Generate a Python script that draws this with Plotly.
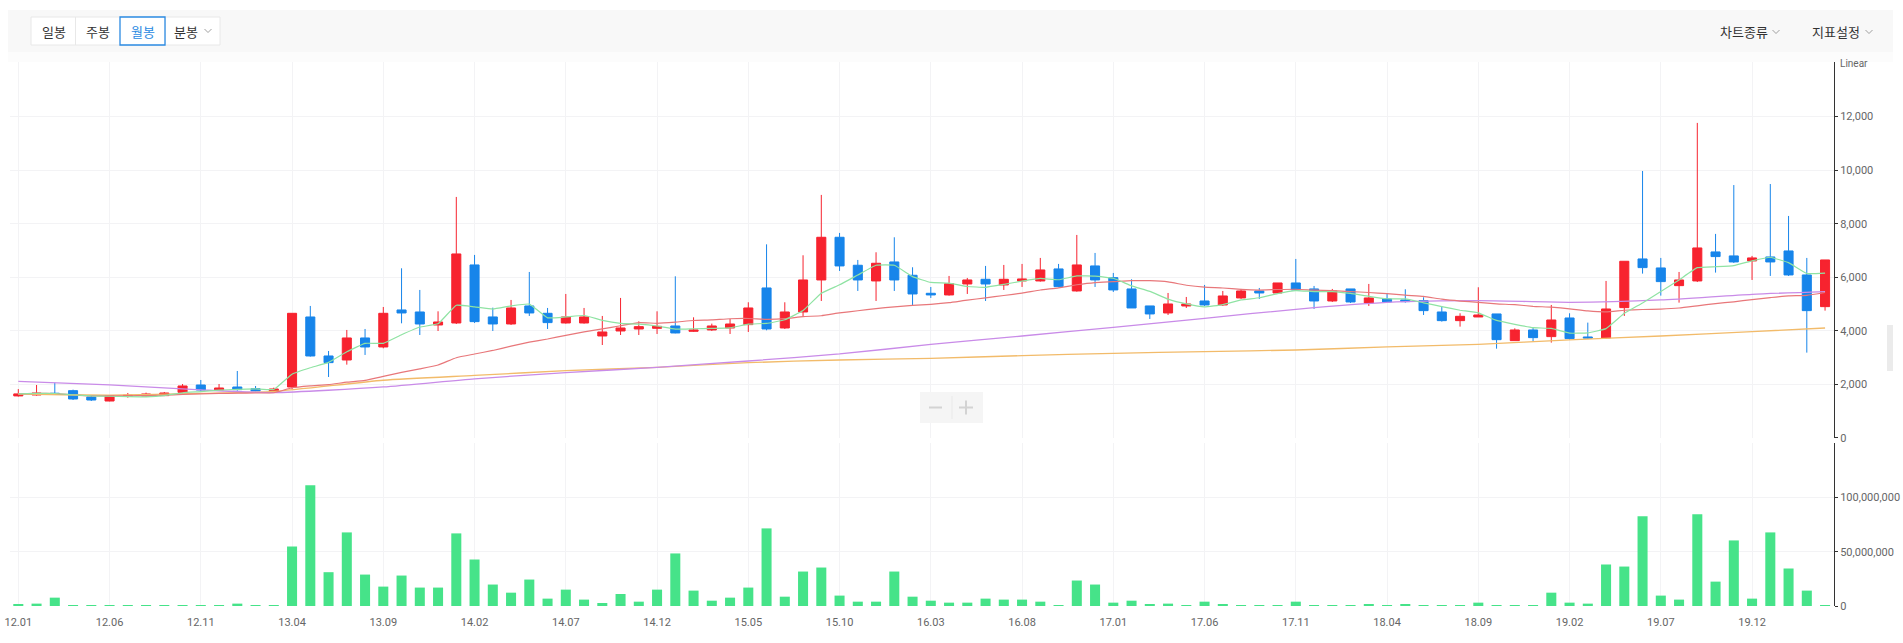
import plotly.graph_objects as go
import pandas as pd

# ---------------- data ----------------
months = [f"{y % 100:02d}.{m:02d}" for y in range(2012, 2021) for m in range(1, 13)][:100]

opens = [1565, 1600, 1665, 1761, 1525, 1375, 1550, 1562, 1575, 1699,
         1973, 1786, 1898, 1836, 1736, 1898, 4514, 3057, 2907, 3730,
         3393, 4776, 4701, 4215, 4290, 6458, 4515, 4253, 4926, 4651,
         4290, 4290, 3804, 3991, 4066, 4091, 4178, 3979, 4029, 4103,
         4228, 5598, 4103, 4701, 5897, 7492, 6446, 5860, 6570, 6072,
         5399, 5337, 5747, 5922, 5710, 5860, 5860, 6309, 5486, 6421,
         5984, 5561, 4926, 4664, 4925, 5112, 4963, 5225, 5486, 5411,
         5785, 5561, 5112, 5561, 5037, 5187, 5150, 5125, 4701, 4377,
         4514, 4627, 3630, 4029, 3780, 4477, 3767, 3730, 4863, 6682,
         6346, 5685, 5860, 6944, 6795, 6607, 6757, 6981, 6084, 4900]
highs = [1820, 1973, 2060, 1799, 1562, 1575, 1675, 1687, 1712, 2010,
         2160, 2010, 2496, 1936, 1873, 4651, 4926, 3244, 4029, 4066,
         4888, 6333, 5524, 4726, 8999, 6832, 4863, 5150, 6196, 4851,
         5374, 4851, 4552, 5225, 4352, 4726, 6034, 4502, 4265, 4440,
         5063, 7228, 5063, 6819, 9074, 7654, 6645, 6931, 7492, 6371,
         5635, 6047, 5972, 6421, 6458, 6496, 6720, 6496, 7579, 6906,
         6159, 5922, 4926, 5411, 5262, 5711, 5486, 5561, 5598, 5785,
         6682, 5673, 5561, 5561, 5748, 5387, 5549, 5250, 4925, 4652,
         5624, 4627, 4091, 4116, 4963, 4652, 4303, 5860, 6595, 9969,
         6720, 6196, 11764, 7617, 9443, 6795, 9481, 8288, 6720, 6645]
lows = [1540, 1575, 1640, 1412, 1375, 1363, 1500, 1550, 1560, 1662,
        1749, 1774, 1761, 1736, 1711, 1811, 3032, 2272, 2733, 3095,
        3343, 4277, 3841, 3990, 4252, 4290, 3991, 4215, 4552, 4066,
        4265, 4265, 3467, 3841, 3841, 3879, 3904, 3954, 3991, 3879,
        3954, 4016, 4066, 4527, 5112, 6234, 5486, 5112, 5486, 4950,
        5225, 5312, 5374, 5112, 5524, 5636, 5835, 5623, 5461, 5636,
        5449, 4851, 4440, 4589, 4851, 4926, 4926, 5187, 5187, 5374,
        5524, 4813, 5075, 5037, 4926, 5050, 5050, 4589, 4340, 4153,
        4514, 3330, 3630, 3592, 3556, 3667, 3705, 3705, 4552, 6134,
        5312, 5050, 5820, 6172, 6533, 5897, 6047, 6047, 3182, 4751]
closes = [1640, 1674, 1650, 1450, 1412, 1575, 1587, 1637, 1674, 1936,
          1786, 1861, 1799, 1749, 1824, 4651, 3057, 2808, 3730, 3393,
          4651, 4664, 4252, 4327, 6869, 4340, 4253, 4851, 4664, 4303,
          4515, 4515, 3954, 4103, 4153, 4165, 3917, 4029, 4178, 4252,
          4851, 4066, 4701, 5897, 7492, 6421, 5897, 6520, 5897, 5374,
          5337, 5760, 5897, 5747, 5922, 5935, 6271, 5648, 6458, 5897,
          5524, 4851, 4627, 5000, 5000, 4963, 5299, 5486, 5411, 5785,
          5524, 5112, 5486, 5075, 5225, 5075, 5088, 4751, 4377, 4539,
          4589, 3667, 4029, 3742, 4402, 3705, 3730, 4813, 6595, 6358,
          5835, 5897, 7093, 6770, 6570, 6720, 6570, 6084, 4751, 6645]
volume_millions = [1.2, 2.2, 7.7, 0.6, 0.2, 0.2, 0.1, 0.1, 0.1, 0.2,
                   0.1, 0.2, 2.2, 0.2, 0.2, 54.9, 111.4, 31.2, 67.9, 29.0,
                   17.9, 28.1, 17.0, 17.0, 67.0, 42.9, 19.8, 12.3, 24.4, 6.8,
                   15.1, 5.9, 2.8, 11.1, 4.0, 15.1, 48.5, 14.2, 4.9, 7.7,
                   17.0, 71.6, 8.6, 31.8, 35.5, 9.6, 4.0, 4.0, 31.8, 8.6,
                   4.9, 3.1, 3.1, 6.8, 5.9, 5.9, 4.0, 0.6, 23.5, 19.8,
                   3.1, 4.9, 1.2, 2.2, 0.6, 4.0, 1.2, 0.6, 0.2, 0.2,
                   4.0, 0.6, 0.6, 0.2, 1.2, 0.6, 1.2, 0.2, 0.2, 0.2,
                   3.1, 0.2, 0.2, 0.2, 12.3, 3.1, 2.2, 38.3, 36.4, 82.7,
                   9.6, 5.9, 84.6, 22.5, 60.5, 6.8, 67.9, 34.6, 14.2, 0.6]

# long moving averages at these months
ma_long_months = ["12.01", "12.06", "12.11", "13.03", "13.09", "14.02", "14.07", "14.12",
                  "15.05", "15.10", "16.03", "16.08", "17.01", "17.06", "17.11", "18.04",
                  "18.09", "19.02", "19.07", "19.12", "20.04"]
ma60_values = [2105, 1975, 1790, 1690, 1900, 2205, 2434, 2633, 2870, 3132, 3490,
               3804, 4128, 4465, 4801, 5060, 5125, 5063, 5150, 5362, 5462]
ma120_values = [1637, 1595, 1660, 1730, 2150, 2330, 2508, 2633, 2807, 2907, 2970,
                3070, 3157, 3219, 3281, 3395, 3493, 3655, 3804, 3966, 4103]

tick_months = months[::5]
price_ticks = [0, 2000, 4000, 6000, 8000, 10000, 12000]
volume_ticks = [0, 50_000_000, 100_000_000]

# ---------------- styling ----------------
W, H = 1903, 643
ML, MR, MT, MB = 10, 69, 62, 37
PW, PH = W - ML - MR, H - MT - MB
RED = "#f7232f"
BLUE = "#1785ea"
VOL = "#46e389"
GRID = "#f3f3f5"
TXT = "#666666"
KFONT = "Noto Sans CJK KR"


def px(x):
    return (x - ML) / PW


def py(y):
    return (H - MB - y) / PH


volumes = [v * 1_000_000 for v in volume_millions]
close_s = pd.Series(closes)
ma5 = close_s.rolling(5, min_periods=1).mean()
ma20 = close_s.rolling(20, min_periods=1).mean()

fig = go.Figure()

fig.add_trace(go.Candlestick(
    x=months, open=opens, high=highs, low=lows, close=closes,
    increasing=dict(line=dict(color=RED, width=1), fillcolor=RED),
    decreasing=dict(line=dict(color=BLUE, width=1), fillcolor=BLUE),
    xaxis="x", yaxis="y", showlegend=False, hoverinfo="skip"))

fig.add_trace(go.Scatter(x=ma_long_months, y=ma120_values, mode="lines",
                         line=dict(color="#f2bb6a", width=1.3, shape="spline", smoothing=0.6),
                         xaxis="x", yaxis="y", showlegend=False))
fig.add_trace(go.Scatter(x=ma_long_months, y=ma60_values, mode="lines",
                         line=dict(color="#c98be8", width=1.3, shape="spline", smoothing=0.6),
                         xaxis="x", yaxis="y", showlegend=False))
fig.add_trace(go.Scatter(x=months, y=ma20, mode="lines",
                         line=dict(color="#e8777a", width=1.2, shape="spline", smoothing=0.4),
                         xaxis="x", yaxis="y", showlegend=False))
fig.add_trace(go.Scatter(x=months, y=ma5, mode="lines",
                         line=dict(color="#8fe3a3", width=1.2, shape="spline", smoothing=0.3),
                         xaxis="x", yaxis="y", showlegend=False))

fig.add_trace(go.Bar(x=months, y=volumes, marker=dict(color=VOL, line=dict(width=0)),
                     xaxis="x2", yaxis="y2", showlegend=False, hoverinfo="skip"))

common_x = dict(type="category", categoryorder="array", categoryarray=months,
                range=[-0.455, 99.49], tickmode="array", tickvals=tick_months,
                showgrid=True, gridcolor=GRID, gridwidth=1, zeroline=False,
                showline=False, fixedrange=True, automargin=False)
common_y = dict(side="right", tickmode="array", tickformat=",",
                showline=True, linecolor="#333333", linewidth=1,
                ticks="outside", ticklen=3, tickcolor="#333333",
                showgrid=True, gridcolor=GRID, zeroline=False,
                tickfont=dict(size=11, color=TXT), fixedrange=True, automargin=False)

fig.update_layout(
    width=W, height=H, autosize=False,
    margin=dict(l=ML, r=MR, t=MT, b=MB, pad=0, autoexpand=False),
    paper_bgcolor="white", plot_bgcolor="white",
    bargap=0.45, boxgap=0.29,
    font=dict(family="Roboto, Noto Sans, sans-serif", size=11, color=TXT),
    xaxis=dict(domain=[0, 1], anchor="y", showticklabels=False,
               rangeslider=dict(visible=False), **common_x),
    xaxis2=dict(domain=[0, 1], anchor="y2", matches="x", showticklabels=True,
                ticks="", ticklabelstandoff=8, tickfont=dict(size=11, color=TXT), **common_x),
    yaxis=dict(domain=[py(437.8), 1], range=[0, 14040], tickvals=price_ticks, **common_y),
    yaxis2=dict(domain=[0, py(443)], range=[0, 150_400_000], tickvals=volume_ticks, **common_y),
)

shapes = []
# toolbar band
shapes.append(dict(type="rect", xref="paper", yref="paper", x0=px(8), x1=px(1893),
                   y0=py(52), y1=py(10), fillcolor="#f8f8f8", line=dict(width=0), layer="below"))
shapes.append(dict(type="rect", xref="paper", yref="paper", x0=px(8), x1=px(1893),
                   y0=py(62), y1=py(52), fillcolor="#fcfcfc", line=dict(width=0), layer="below"))
# button group
shapes.append(dict(type="rect", xref="paper", yref="paper", x0=px(31), x1=px(220),
                   y0=py(45), y1=py(17), fillcolor="white", line=dict(color="#e8e8e8", width=1)))
shapes.append(dict(type="line", xref="paper", yref="paper", x0=px(75.5), x1=px(75.5),
                   y0=py(45), y1=py(17), line=dict(color="#e8e8e8", width=1)))
shapes.append(dict(type="line", xref="paper", yref="paper", x0=px(165), x1=px(165),
                   y0=py(45), y1=py(17), line=dict(color="#e8e8e8", width=1)))
shapes.append(dict(type="rect", xref="paper", yref="paper", x0=px(120), x1=px(165),
                   y0=py(45), y1=py(17), fillcolor="white", line=dict(color="#2b8ae2", width=1.3)))


def chevron(cx, cy):
    return dict(type="path", xref="paper", yref="paper",
                path=f"M {px(cx - 3.5)},{py(cy - 2)} L {px(cx)},{py(cy + 1.5)} L {px(cx + 3.5)},{py(cy - 2)}",
                line=dict(color="#888888", width=0.8))


shapes.append(chevron(208, 31))
shapes.append(chevron(1776, 32))
shapes.append(chevron(1869, 32))

# zoom control
shapes.append(dict(type="rect", xref="paper", yref="paper", x0=px(920), x1=px(983),
                   y0=py(423), y1=py(392), fillcolor="#f5f5f5", line=dict(width=0)))
shapes.append(dict(type="line", xref="paper", yref="paper", x0=px(952), x1=px(952),
                   y0=py(419), y1=py(396), line=dict(color="#e9e9e9", width=1)))
shapes.append(dict(type="line", xref="paper", yref="paper", x0=px(929), x1=px(942),
                   y0=py(407.5), y1=py(407.5), line=dict(color="#d3d3d3", width=2)))
shapes.append(dict(type="line", xref="paper", yref="paper", x0=px(959), x1=px(973),
                   y0=py(407.5), y1=py(407.5), line=dict(color="#d3d3d3", width=2)))
shapes.append(dict(type="line", xref="paper", yref="paper", x0=px(966), x1=px(966),
                   y0=py(414.5), y1=py(400.5), line=dict(color="#d3d3d3", width=2)))
# right side scroll handle
shapes.append(dict(type="rect", xref="paper", yref="paper", x0=px(1887), x1=px(1893),
                   y0=py(371), y1=py(325), fillcolor="#ebebeb", line=dict(width=0)))
fig.update_layout(shapes=shapes)

ann = []


def label(text, x, y, color="#333333", size=13, family=KFONT, xanchor="center"):
    ann.append(dict(text=text, x=px(x), y=py(y), xref="paper", yref="paper",
                    showarrow=False, xanchor=xanchor, yanchor="middle",
                    font=dict(family=family, size=size, color=color)))


label("일봉", 53.5, 31)
label("주봉", 98, 31)
label("월봉", 142.5, 31, color="#2b8ae2")
label("분봉", 185.5, 31)
label("차트종류", 1744, 32)
label("지표설정", 1836, 32)
label("Linear", 1838, 63, color=TXT, size=10, family="Roboto, sans-serif", xanchor="left")
fig.update_layout(annotations=ann)

fig.write_html("out.html", config={"displayModeBar": False, "responsive": False},
               default_width="1903px", default_height="643px",
               post_script="document.body.style.margin='0';document.body.style.overflow='hidden';")
